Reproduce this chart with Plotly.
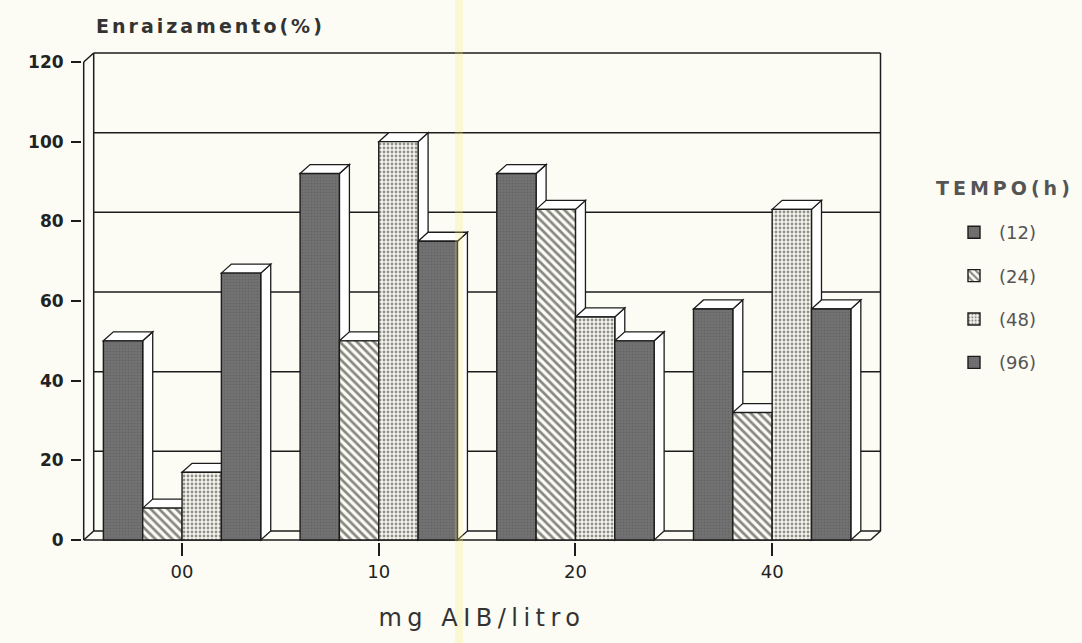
import plotly.graph_objects as go

# ---------------- data ----------------
categories = ["00", "10", "20", "40"]
series_names = ["(12)", "(24)", "(48)", "(96)"]
rooting_12h = [50, 92, 92, 58]
rooting_24h = [8, 50, 83, 32]
rooting_48h = [17, 100, 56, 83]
rooting_96h = [67, 75, 50, 58]
y_tick_values = [0, 20, 40, 60, 80, 100, 120]

series_values = [rooting_12h, rooting_24h, rooting_48h, rooting_96h]

# ---------------- geometry ----------------
FIG_W, FIG_H = 1082, 643
M_L, M_R, M_T, M_B = 82, 200, 50, 101
PLOT_W = FIG_W - M_L - M_R
PLOT_H = FIG_H - M_T - M_B
PX_PER_CAT = 196.7
PX_PER_PCT = 478 / 120
X_LEFT = -0.5
X_RIGHT = len(categories) - 0.5
Y_TOP = y_tick_values[-1]
x_range = [X_LEFT - 1.7 / PX_PER_CAT]
x_range.append(x_range[0] + PLOT_W / PX_PER_CAT)
y_range = [-2 / PX_PER_PCT]
y_range.append(y_range[0] + PLOT_H / PX_PER_PCT)
DX = 10 / PX_PER_CAT   # oblique depth (x)
DY = 9 / PX_PER_PCT    # oblique depth (y)
BAR_W = 0.2

INK = "#1c1c1c"
PAPER = "#fcfcf4"
FONT = "DejaVu Sans"


def px_to_paper_x(px):
    return (px - M_L) / PLOT_W


def px_to_paper_y(py):
    return (PLOT_H + M_T - py) / PLOT_H


def spaced(text, px):
    return f"<span style='letter-spacing:{px}px'>{text}</span>"


dark = dict(shape=".", fgcolor="#565656", bgcolor="#737373", size=3, solidity=0.35, fillmode="overlay")
styles = [
    dict(color="#737373", pattern=dark),
    dict(color=PAPER, pattern=dict(shape="\\", fgcolor="#111111", bgcolor=PAPER,
                                   size=6, solidity=0.45, fillmode="overlay")),
    dict(color="#f4f4ec", pattern=dict(shape=".", fgcolor="#2a2a2a", bgcolor="#f6f6ee",
                                       size=4, solidity=0.4, fillmode="overlay")),
    dict(color="#737373", pattern=dark),
]

fig = go.Figure()
n = len(series_values)
for i, (name, vals) in enumerate(zip(series_names, series_values)):
    fig.add_trace(go.Bar(
        x=list(range(len(categories))), y=vals, name=name,
        width=BAR_W, offset=-n / 2 * BAR_W + i * BAR_W,
        marker=dict(color=styles[i]["color"], pattern=styles[i]["pattern"],
                    line=dict(color=INK, width=1.4)),
        legendgroup=name,
    ))

shapes = []
line_style = dict(color=INK, width=1.5)
# back wall grid lines
for t in y_tick_values:
    shapes.append(dict(type="line", xref="x", yref="y", layer="below",
                       x0=X_LEFT + DX, x1=X_RIGHT + DX, y0=t + DY, y1=t + DY, line=line_style))
# walls / frame
frame = [
    (X_LEFT, 0, X_LEFT, Y_TOP),
    (X_LEFT + DX, DY, X_LEFT + DX, Y_TOP + DY),
    (X_LEFT, Y_TOP, X_LEFT + DX, Y_TOP + DY),
    (X_LEFT, 0, X_LEFT + DX, DY),
    (X_LEFT, 0, X_RIGHT, 0),
    (X_RIGHT, 0, X_RIGHT + DX, DY),
    (X_RIGHT + DX, DY, X_RIGHT + DX, Y_TOP + DY),
]
for x0, y0, x1, y1 in frame:
    shapes.append(dict(type="line", xref="x", yref="y", layer="below",
                       x0=x0, y0=y0, x1=x1, y1=y1, line=line_style))
# 3-D side and top faces of each bar
for c in range(len(categories)):
    for i, vals in enumerate(series_values):
        v = vals[c]
        xl = c - n / 2 * BAR_W + i * BAR_W
        xr = xl + BAR_W
        side = f"M{xr},0 L{xr + DX},{DY} L{xr + DX},{v + DY} L{xr},{v} Z"
        top = f"M{xl},{v} L{xl + DX},{v + DY} L{xr + DX},{v + DY} L{xr},{v} Z"
        for p in (side, top):
            shapes.append(dict(type="path", xref="x", yref="y", layer="below", path=p,
                               fillcolor="#ffffff", line=dict(color=INK, width=1.3)))
# faint yellow highlighter stripe of the scan
shapes.append(dict(type="rect", xref="paper", yref="paper", layer="above",
                   x0=px_to_paper_x(455), x1=px_to_paper_x(463),
                   y0=px_to_paper_y(FIG_H), y1=px_to_paper_y(0),
                   fillcolor="rgba(250,232,110,0.25)", line=dict(width=0)))

fig.update_layout(
    width=FIG_W, height=FIG_H,
    margin=dict(l=M_L, r=M_R, t=M_T, b=M_B, autoexpand=False),
    paper_bgcolor=PAPER, plot_bgcolor=PAPER,
    font=dict(family=FONT, color=INK),
    barmode="group",
    shapes=shapes,
    showlegend=True,
    legend=dict(
        font=dict(size=18, color="#555555", family=FONT),
        x=px_to_paper_x(949), xanchor="left",
        y=px_to_paper_y(214), yanchor="top",
        bgcolor="rgba(0,0,0,0)", tracegroupgap=17, itemwidth=40,
    ),
    xaxis=dict(
        range=x_range, tickmode="array", tickvals=list(range(len(categories))),
        ticktext=categories, showgrid=False, zeroline=False, showline=False,
        ticks="outside", ticklen=13, tickwidth=1.5, tickcolor=INK,
        tickfont=dict(size=18, color="#222222"),
        title=dict(text=spaced("mg AIB/litro", 5.5), font=dict(size=24, color="#333333"), standoff=28),
        automargin=False, fixedrange=True,
    ),
    yaxis=dict(
        range=y_range, tickmode="array", tickvals=y_tick_values,
        showgrid=False, zeroline=False, showline=False,
        ticks="outside", ticklen=10, tickwidth=1.5, tickcolor=INK,
        tickfont=dict(size=17, color="#222222", weight="bold"),
        ticklabelstandoff=4,
        automargin=False, fixedrange=True,
    ),
    annotations=[
        dict(text=spaced("Enraizamento(%)", 3), xref="paper", yref="paper",
             x=px_to_paper_x(94), y=px_to_paper_y(26),
             xanchor="left", yanchor="middle", showarrow=False,
             font=dict(size=19, color="#333333", family=FONT, weight="bold")),
        dict(text=spaced("TEMPO(h)", 4), xref="paper", yref="paper",
             x=px_to_paper_x(934), y=px_to_paper_y(188),
             xanchor="left", yanchor="middle", showarrow=False,
             font=dict(size=19, color="#555555", family=FONT, weight="bold")),
    ],
)

fig.write_html("out.html", config={"displayModeBar": False},
               post_script="document.body.style.margin='0';")
